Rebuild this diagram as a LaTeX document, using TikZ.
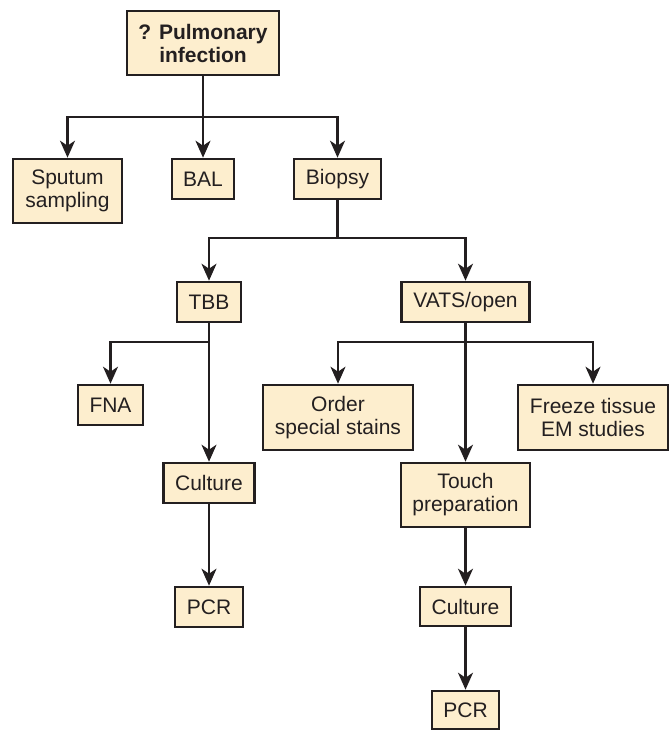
\documentclass[tikz,border=0pt]{standalone}
\usepackage{fontspec}
\setmainfont{Liberation Sans}
\usepackage{tikz}
\usetikzlibrary{positioning}
\usetikzlibrary{arrows.meta}
\definecolor{boxfill}{RGB}{253,238,206}
\definecolor{ink}{RGB}{35,31,32}
\tikzstyle{box} = [draw=ink,line width=2.6pt,fill=boxfill,text=ink,align=center,inner sep=0pt,font=\fontsize{21}{23}\selectfont]
\tikzstyle{line} = [draw=ink,line width=2.3pt]
\tikzstyle{arrow} = [line,->,>={Stealth[length=17pt,width=15pt,inset=5pt]}]

\begin{document}
\begin{tikzpicture}[x=1pt,y=-1pt]
						\useasboundingbox (0,0) rectangle (671,730);

						%Nodes
						\node [box,minimum width=152pt,minimum height=64pt,font=\fontsize{21}{23}\selectfont\bfseries] (infect) at (203,43) {? Pulmonary\\infection};
						\node [box,minimum width=109pt,minimum height=64pt] (sputum) at (67.5,191) {Sputum\\sampling};
						\node [box,minimum width=62pt,minimum height=40pt] (bal) at (203,179) {BAL};
						\node [box,minimum width=87pt,minimum height=40pt] (biopsy) at (337.5,179) {Biopsy};
						\node [box,minimum width=64pt,minimum height=40pt] (tbb) at (209,302) {TBB};
						\node [box,minimum width=128pt,minimum height=40pt] (vats) at (465.5,302) {VATS/open};
						\node [box,minimum width=65pt,minimum height=40pt] (fna) at (110.5,405) {FNA};
						\node [box,minimum width=91pt,minimum height=40pt] (culture1) at (209,483) {Culture};
						\node [box,minimum width=68pt,minimum height=40pt] (pcr1) at (209,607) {PCR};
						\node [box,minimum width=150pt,minimum height=65pt] (order) at (338,417.5) {Order\\special stains};
						\node [box,minimum width=150pt,minimum height=65pt] (freeze) at (593,417.5) {Freeze tissue\\EM studies};
						\node [box,minimum width=129pt,minimum height=64pt] (touch) at (465.5,495) {Touch\\preparation};
						\node [box,minimum width=91pt,minimum height=39pt] (culture2) at (465.5,606.5) {Culture};
						\node [box,minimum width=67pt,minimum height=38pt] (pcr2) at (465.5,710) {PCR};

						%Junctions
						\coordinate (j1) at (203,117);
						\coordinate (j2) at (337.5,238);
						\coordinate (j3) at (209,342);
						\coordinate (j4) at (465.5,342);

						%Lines
						\draw[line] (infect) -- (j1);
						\draw[arrow] (j1) -| (sputum);
						\draw[arrow] (j1) -- (bal);
						\draw[arrow] (j1) -| (biopsy);

						\draw[line] (biopsy) -- (j2);
						\draw[arrow] (j2) -| (tbb);
						\draw[arrow] (j2) -| (vats);

						\draw[arrow] (tbb) -- (culture1);
						\draw[arrow] (j3) -| (fna);
						\draw[arrow] (culture1) -- (pcr1);

						\draw[arrow] (vats) -- (touch);
						\draw[arrow] (j4) -| (order);
						\draw[arrow] (j4) -| (freeze);
						\draw[arrow] (touch) -- (culture2);
						\draw[arrow] (culture2) -- (pcr2);
					\end{tikzpicture}
\end{document}
